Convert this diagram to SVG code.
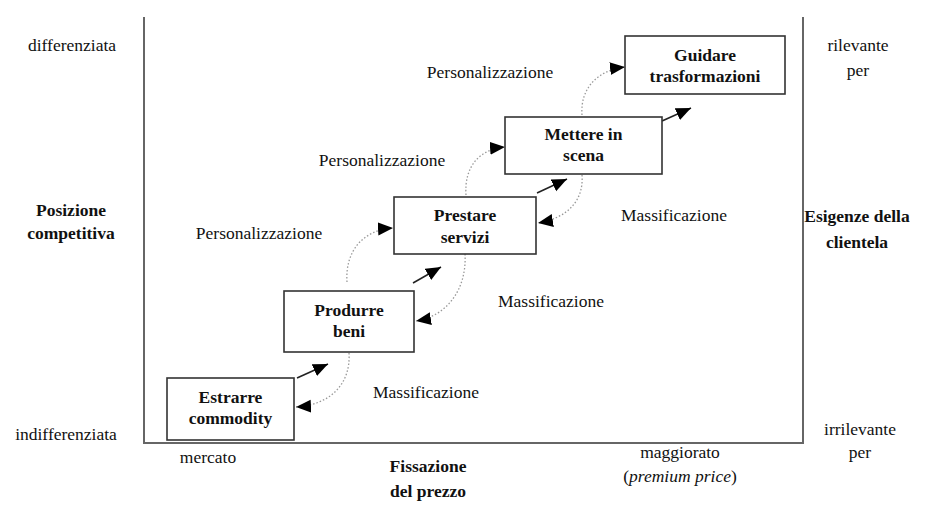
<svg xmlns="http://www.w3.org/2000/svg" width="925" height="516" viewBox="0 0 925 516">
<defs>
<style>
text{font-size:17.5px;fill:#111;}
.b{font-weight:bold;}
.m{text-anchor:middle;}
.box{fill:#fff;stroke:#333;stroke-width:1.6;}
.frame{fill:none;stroke:#666;stroke-width:2;}
.solid{fill:none;stroke:#222;stroke-width:1.6;}
.dot{fill:none;stroke:#999;stroke-width:1.3;stroke-dasharray:1.5 2;}
</style>
<marker id="ah" markerUnits="userSpaceOnUse" markerWidth="16" markerHeight="14" refX="15" refY="6.5" orient="auto">
<path d="M0,0 L15,6.5 L0,13 z" fill="#000"/>
</marker>
</defs>
<rect width="925" height="516" fill="#fff"/>
<path class="frame" d="M144,17 V443 H803 V17"/>

<g font-family="Liberation Serif, Times New Roman, serif">
<g id="axis-labels">
<text class="m" x="72" y="51">differenziata</text>
<text class="m b" x="71" y="216">Posizione</text>
<text class="m b" x="71" y="239">competitiva</text>
<text class="m" x="66" y="440">indifferenziata</text>
<text class="m" x="858" y="51">rilevante</text>
<text class="m" x="858" y="76">per</text>
<text class="m b" x="857" y="222">Esigenze della</text>
<text class="m b" x="857" y="248">clientela</text>
<text class="m" x="860" y="435">irrilevante</text>
<text class="m" x="860" y="458">per</text>
<text class="m" x="208" y="463">mercato</text>
<text class="m b" x="428" y="472">Fissazione</text>
<text class="m b" x="428" y="497">del prezzo</text>
<text class="m" x="680" y="458">maggiorato</text>
<text class="m" x="680" y="482">(<tspan font-style="italic">premium price</tspan>)</text>
</g>

<g id="edge-labels">
<text class="m" x="490" y="78">Personalizzazione</text>
<text class="m" x="382" y="166">Personalizzazione</text>
<text class="m" x="259" y="239">Personalizzazione</text>
<text class="m" x="674" y="221">Massificazione</text>
<text class="m" x="551" y="307">Massificazione</text>
<text class="m" x="426" y="398">Massificazione</text>
</g>

<g id="connectors">
<line class="solid" x1="297" y1="378" x2="328" y2="364" marker-end="url(#ah)"/>
<line class="solid" x1="413" y1="283" x2="441" y2="267" marker-end="url(#ah)"/>
<line class="solid" x1="537" y1="193" x2="567" y2="179" marker-end="url(#ah)"/>
<line class="solid" x1="662" y1="121" x2="691" y2="108" marker-end="url(#ah)"/>
<path class="dot" d="M347,282 C345,252 362,230 393,228" marker-end="url(#ah)"/>
<path class="dot" d="M466,195 C464,166 480,149 505,147" marker-end="url(#ah)"/>
<path class="dot" d="M582,115 C580,88 598,70 625,67" marker-end="url(#ah)"/>
<path class="dot" d="M349,353 C351,384 330,405 296,407" marker-end="url(#ah)"/>
<path class="dot" d="M465,254 C467,288 448,316 416,321" marker-end="url(#ah)"/>
<path class="dot" d="M582,175 C584,200 568,218 538,223" marker-end="url(#ah)"/>
</g>

<g id="n1">
<rect class="box" x="167" y="378" width="127" height="62"/>
<text class="m b" x="230.5" y="403">Estrarre</text>
<text class="m b" x="230.5" y="424">commodity</text>
</g>
<g id="n2">
<rect class="box" x="284" y="291" width="130" height="61"/>
<text class="m b" x="349" y="316">Produrre</text>
<text class="m b" x="349" y="337">beni</text>
</g>
<g id="n3">
<rect class="box" x="394" y="197" width="142" height="57"/>
<text class="m b" x="465" y="221">Prestare</text>
<text class="m b" x="465" y="243">servizi</text>
</g>
<g id="n4">
<rect class="box" x="505" y="117" width="157" height="57"/>
<text class="m b" x="583.5" y="140">Mettere in</text>
<text class="m b" x="583.5" y="161">scena</text>
</g>
<g id="n5">
<rect class="box" x="625" y="36" width="160" height="58"/>
<text class="m b" x="705" y="61">Guidare</text>
<text class="m b" x="705" y="82">trasformazioni</text>
</g>
</g>
</svg>
